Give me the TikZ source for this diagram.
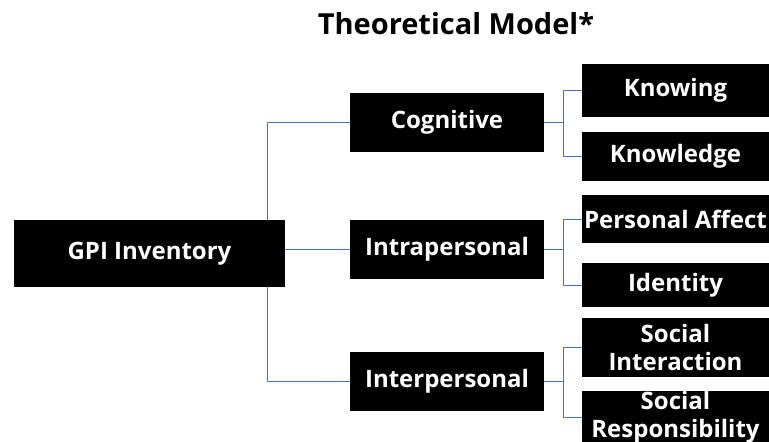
\documentclass[tikz,border=0pt]{standalone}
\usepackage{fontspec}
\setmainfont{Open Sans}
\usetikzlibrary{backgrounds}
\definecolor{linkblue}{HTML}{4472C4}
\begin{document}
\begin{tikzpicture}[x=1pt, y=-1pt,
        box/.style={fill=black, text=white, align=center, inner sep=0pt,
            font=\bfseries\fontsize{24}{28}\selectfont},
        mid/.style={box, minimum width=194pt, minimum height=59pt},
        leaf/.style={box, minimum width=187pt},
        link/.style={draw=linkblue, line width=1pt}]
    \useasboundingbox (0,0) rectangle (769,442);

    \node[anchor=base, font=\bfseries\fontsize{29}{34}\selectfont] (title) at (456,34) {Theoretical Model*};

    % root and the three domains
    \node[box, minimum width=271pt, minimum height=67pt] (gpi) at (149.5,253.5) {GPI Inventory};
    \node[mid] (cog) at (447,122.5) {Cognitive};
    \node[mid] (intra) at (447,249.5) {Intrapersonal};
    \node[mid] (inter) at (447,381.5) {Interpersonal};

    % scales
    \node[leaf, minimum height=53pt] (knowing) at (675.5,90.5) {Knowing};
    \node[leaf, minimum height=49pt] (knowledge) at (675.5,156) {Knowledge};
    \node[leaf, minimum height=48pt] (affect) at (675.5,219) {Personal Affect};
    \node[leaf, minimum height=44pt] (identity) at (675.5,285) {Identity};
    \node[leaf, minimum height=59pt] (interaction) at (675.5,347.5) {Social\\Interaction};
    \node[leaf, minimum height=53pt] (responsibility) at (675.5,417) {Social\\Responsibility};

    \begin{pgfonlayer}{background}
        \coordinate (trunk) at (267,0);
        \draw[link] (trunk |- cog) -- (trunk |- inter);
        \foreach \m in {cog,intra,inter}
            \draw[link] (trunk |- \m) -- (\m);
        \foreach \p/\a/\b in {cog/knowing/knowledge, intra/affect/identity,
                inter/interaction/responsibility} {
            \draw[link] (\p.east) -- ++(19,0) |- (\a);
            \draw[link] (\p.east) ++(19,0) |- (\b);
        }
    \end{pgfonlayer}
\end{tikzpicture}
\end{document}
